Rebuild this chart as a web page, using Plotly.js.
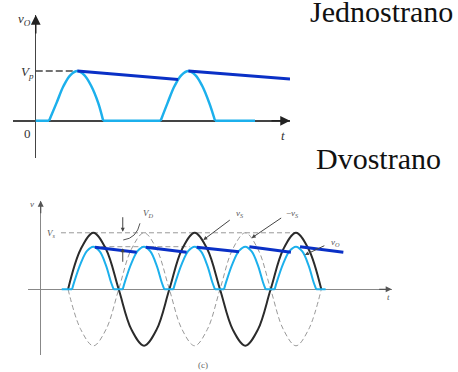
<!DOCTYPE html>
<html><head><meta charset="utf-8">
<script src="https://cdn.plot.ly/plotly-3.0.1.min.js"></script>
<style>html,body{margin:0;padding:0;background:#fff}#c{width:458px;height:372px}</style>
</head><body><div id="c"></div><script>
// ---------- Top chart: half-wave rectifier (Jednostrano) ----------
const halfT   = [0, 0.48, null, 0.48, 0.75, 1.0, 1.25, 1.5, 1.75, 2.0, 2.25, 2.43, null, 2.43, 4.5, null, 4.5, 4.75, 5.0, 5.25, 5.5, 5.75, 6.0, 6.25, 6.46, null, 6.46, 7.9];
const halfOut = [0, 0,    null, 0,    0.36, 0.7, 0.92, 1.0, 0.92, 0.7, 0.36, 0,    null, 0,    0,   null, 0,   0.36, 0.7, 0.92, 1.0, 0.92, 0.7, 0.36, 0,    null, 0,    0];
const halfRippleT = [1.5, 5.13, null, 5.5, 9.16];
const halfRipple  = [1.0, 0.833, null, 1.0, 0.84];
const vpRefT = [0, 1.5];
const vpRef  = [1, 1];

// ---------- Bottom chart: full-wave rectifier (Dvostrano) ----------
const tS   = [1.08, 1.58, 2.08, 2.58, 3.08, 3.58, 4.08, 4.58, 5.08, 5.58, 6.08, 6.58, 7.08, 7.58, 8.08, 8.58, 9.08, 9.58, 10.08, 10.58, 11.08];
const vS   = [0, 0.71, 1, 0.71, 0, -0.71, -1, -0.71, 0, 0.71, 1, 0.71, 0, -0.71, -1, -0.71, 0, 0.71, 1, 0.71, 0];
const negVS= [0, -0.71, -1, -0.71, 0, 0.71, 1, 0.71, 0, -0.71, -1, -0.71, 0, 0.71, 1, 0.71, 0, -0.71, -1, -0.71, 0];
const fullT = [0.83, 1.24, null,
  1.24, 1.33, 1.58, 1.83, 2.08, 2.33, 2.58, 2.78, 2.88, null, 2.88, 3.24, null,
  3.24, 3.33, 3.58, 3.83, 4.08, 4.33, 4.58, 4.78, 4.88, null, 4.88, 5.24, null,
  5.24, 5.33, 5.58, 5.83, 6.08, 6.33, 6.58, 6.78, 6.88, null, 6.88, 7.24, null,
  7.24, 7.33, 7.58, 7.83, 8.08, 8.33, 8.58, 8.78, 8.88, null, 8.88, 9.24, null,
  9.24, 9.33, 9.58, 9.83, 10.08, 10.33, 10.58, 10.78, 10.88, null, 10.88, 11.25];
const fullOut = [0, 0, null,
  0, 0.14, 0.46, 0.68, 0.754, 0.67, 0.42, 0.12, 0, null, 0, 0, null,
  0, 0.14, 0.46, 0.68, 0.754, 0.67, 0.42, 0.12, 0, null, 0, 0, null,
  0, 0.14, 0.46, 0.68, 0.754, 0.67, 0.42, 0.12, 0, null, 0, 0, null,
  0, 0.14, 0.46, 0.68, 0.754, 0.67, 0.42, 0.12, 0, null, 0, 0, null,
  0, 0.14, 0.46, 0.68, 0.754, 0.67, 0.42, 0.12, 0, null, 0, 0];
const fullRippleT = [2.14, 3.79, null, 4.15, 5.76, null, 6.16, 7.83, null, 8.24, 9.88, null, 10.24, 11.95];
const fullRipple  = [0.743, 0.655, null, 0.743, 0.655, null, 0.743, 0.665, null, 0.754, 0.655, null, 0.754, 0.655];
const vsLevelT = [0.8, 10.08];
const vsLevel  = [1, 1];
const pkLevelT = [2.08, 5.9];
const pkLevel  = [0.754, 0.754];

const LB = '#1cb0ec', DB = '#0a30c6';
const serif = 'Liberation Serif, Times New Roman, serif';

const traces = [
  {x: vpRefT, y: vpRef, mode: 'lines', line: {color: '#444', width: 1.5, dash: '7px,3px'}, xaxis: 'x', yaxis: 'y'},
  {x: halfT, y: halfOut, mode: 'lines', connectgaps: false, line: {color: LB, width: 2.5, shape: 'spline'}, xaxis: 'x', yaxis: 'y'},
  {x: halfRippleT, y: halfRipple, mode: 'lines', connectgaps: false, line: {color: DB, width: 3}, xaxis: 'x', yaxis: 'y'},

  {x: vsLevelT, y: vsLevel, mode: 'lines', line: {color: '#999', width: 1, dash: '5px,3px'}, xaxis: 'x2', yaxis: 'y2'},
  {x: pkLevelT, y: pkLevel, mode: 'lines', line: {color: '#999', width: 1, dash: '5px,3px'}, xaxis: 'x2', yaxis: 'y2'},
  {x: tS, y: negVS, mode: 'lines', line: {color: '#999', width: 1, dash: '5px,3px', shape: 'spline'}, xaxis: 'x2', yaxis: 'y2'},
  {x: tS, y: vS, mode: 'lines', line: {color: '#2b2b2b', width: 2, shape: 'spline'}, xaxis: 'x2', yaxis: 'y2'},
  {x: fullT, y: fullOut, mode: 'lines', connectgaps: false, line: {color: LB, width: 2, shape: 'spline'}, xaxis: 'x2', yaxis: 'y2'},
  {x: fullRippleT, y: fullRipple, mode: 'lines', connectgaps: false, line: {color: DB, width: 3}, xaxis: 'x2', yaxis: 'y2'}
];

function ax(dom, rng, anchor, zc, zw) {
  return {domain: dom, range: rng, anchor: anchor, showgrid: false, zeroline: true, zerolinecolor: zc, zerolinewidth: zw,
          showticklabels: false, ticks: '', showline: false, fixedrange: true};
}
function lab(text, x, y, xr, yr, size, color) {
  return {text: text, x: x, y: y, xref: xr, yref: yr, xanchor: 'center', yanchor: 'middle', showarrow: false,
          font: {family: serif, size: size, color: color}};
}
function arr(x, y, xr, yr, axp, ayp, size, width, color) {
  return {text: '', x: x, y: y, xref: xr, yref: yr, ax: axp, ay: ayp, showarrow: true, arrowhead: 2,
          arrowsize: size, arrowwidth: width, arrowcolor: color, standoff: 0};
}

const layout = {
  width: 458, height: 372, margin: {l: 0, r: 0, t: 0, b: 0},
  paper_bgcolor: '#fff', plot_bgcolor: 'rgba(0,0,0,0)', showlegend: false,
  xaxis: ax([0.02773, 0.63319], [-0.83, 9.16], 'y', '#444', 1.5),
  yaxis: ax([0.57527, 0.95968], [-0.75, 2.13], 'x', '#444', 1.5),
  xaxis2: ax([0.06179, 0.85524], [-0.49, 13.86], 'y2', '#888', 1),
  yaxis2: ax([0.0457, 0.46048], [-1.163, 1.568], 'x2', '#888', 1),
  shapes: [
    {type: 'path', xref: 'x2', yref: 'y2', path: 'M 3.26,0.873 Q 3.79,0.903 3.92,1.168', line: {color: '#555', width: 1}}
  ],
  annotations: [
    lab('Jednostrano', 381.7/458, 0.9685, 'paper', 'paper', 30, '#111'),
    lab('Dvostrano', 378.3/458, 0.5726, 'paper', 'paper', 30, '#111'),
    // top chart
    arr(0, 2.13, 'x', 'y', 0, 20, 1.3, 1.5, '#222'),
    arr(9.16, 0, 'x', 'y', -20, 0, 1.3, 1.5, '#222'),
    lab('<i>v</i><sub><i>O</i></sub>', -0.42, 2.03, 'x', 'y', 13, '#333'),
    lab('<i>V</i><sub><i>p</i></sub>', -0.31, 0.98, 'x', 'y', 13, '#333'),
    lab('0', -0.28, -0.25, 'x', 'y', 13, '#333'),
    lab('<i>t</i>', 8.91, -0.29, 'x', 'y', 13, '#333'),
    // bottom chart
    arr(0, 1.568, 'x2', 'y2', 0, 14, 1, 1.2, '#555'),
    arr(13.86, 0, 'x2', 'y2', -14, 0, 1, 1.2, '#555'),
    arr(6.42, 0.873, 'x2', 'y2', 28, -21, 0.8, 1, '#444'),
    arr(8.33, 0.908, 'x2', 'y2', 31, -21, 0.8, 1, '#444'),
    arr(10.43, 0.607, 'x2', 'y2', 21, -10, 0.8, 1, '#444'),
    arr(3.24, 1.019, 'x2', 'y2', 0, -16, 0.8, 1, '#444'),
    arr(3.24, 0.726, 'x2', 'y2', 0, 15, 0.8, 1, '#444'),
    lab('<i>v</i>', -0.36, 1.51, 'x2', 'y2', 9, '#555'),
    lab('<i>V</i><sub><i>s</i></sub>', 0.41, 0.996, 'x2', 'y2', 9, '#555'),
    lab('<i>V</i><sub><i>D</i></sub>', 4.24, 1.35, 'x2', 'y2', 9, '#555'),
    lab('<i>v</i><sub><i>S</i></sub>', 7.87, 1.333, 'x2', 'y2', 9, '#555'),
    lab('−<i>v</i><sub><i>S</i></sub>', 9.96, 1.333, 'x2', 'y2', 9, '#555'),
    lab('<i>v</i><sub><i>O</i></sub>', 11.66, 0.82, 'x2', 'y2', 9, '#555'),
    lab('<i>t</i>', 13.75, -0.136, 'x2', 'y2', 9, '#555'),
    lab('(c)', 203/458, 7/372, 'paper', 'paper', 9, '#666')
  ]
};

Plotly.newPlot('c', traces, layout, {staticPlot: true, displayModeBar: false});
</script></body></html>
